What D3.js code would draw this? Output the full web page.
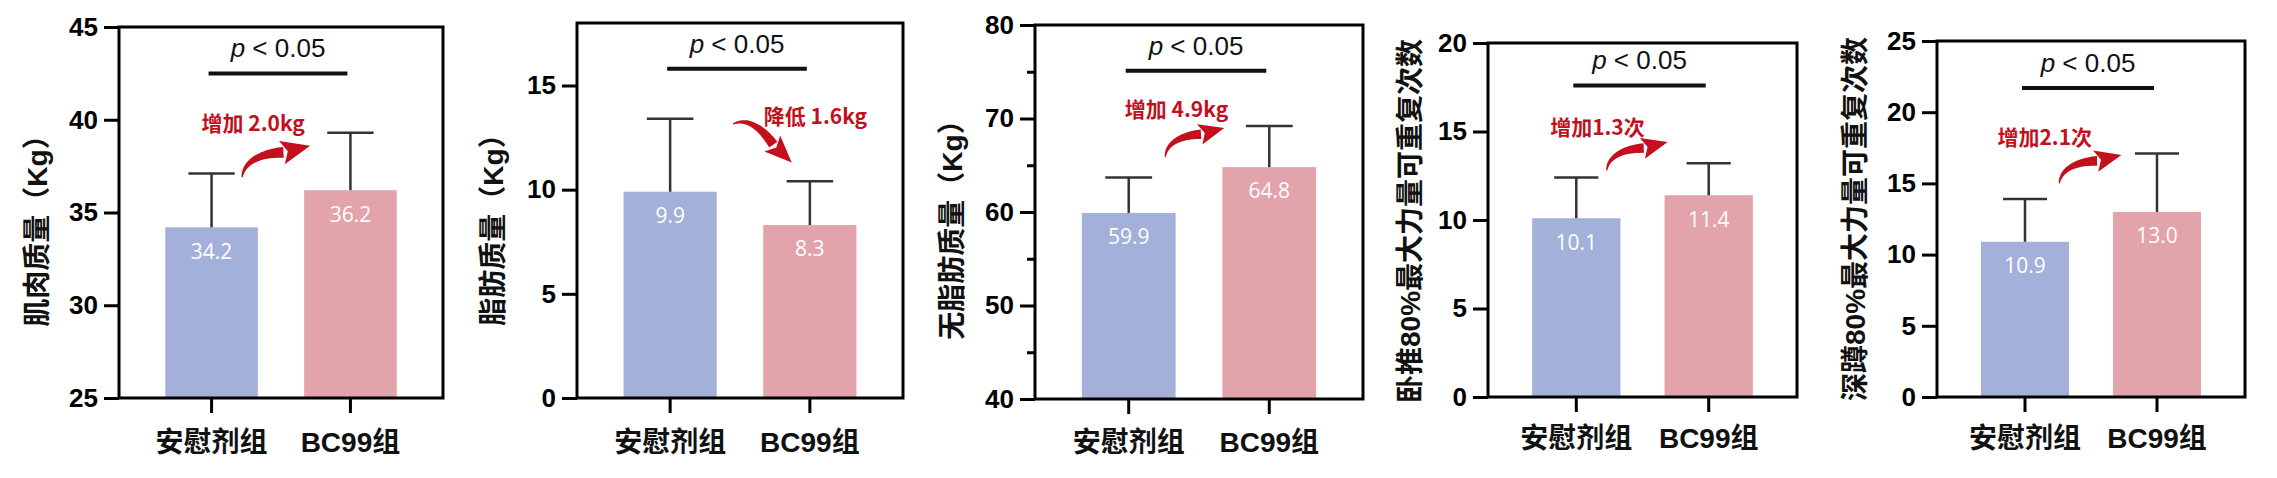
<!DOCTYPE html>
<html>
<head>
<meta charset="utf-8">
<script src="https://cdn.jsdelivr.net/npm/d3@7"></script>
<style>
  html, body { margin: 0; padding: 0; background: #fff; }
  svg { display: block; }
</style>
</head>
<body>
<div id="chart"></div>
<script>
/* five small bar panels, placebo vs BC99, mean + SD */

var categories  = ['安慰剂组', 'BC99组'];
var yTitles     = ['肌肉质量（Kg）', '脂肪质量（Kg）', '无脂肪质量（Kg）',
                   '卧推80%最大力量可重复次数', '深蹲80%最大力量可重复次数'];
var meanValues  = [[34.2, 36.2], [9.9, 8.3], [59.9, 64.8], [10.1, 11.4], [10.9, 13.0]];
var sdValues    = [[2.9, 3.1], [3.5, 2.1], [3.8, 4.4], [2.3, 1.8], [3.0, 4.1]];
var yDomains    = [[25, 45], [0, 18], [40, 80], [0, 20], [0, 25]];
var yTicks      = [[25, 30, 35, 40, 45], [0, 5, 10, 15], [40, 50, 60, 70, 80],
                   [0, 5, 10, 15, 20], [0, 5, 10, 15, 20, 25]];
var yMinorTicks = [[], [], [45, 55, 65, 75], [], []];
var pLabel      = 'p < 0.05';
var pBarValues  = [42.5, 15.8, 75.1, 17.6, 21.7];          /* height of the p bar, data units */
var changeLabels = ['增加 2.0kg', '降低 1.6kg', '增加 4.9kg', '增加1.3次', '增加2.1次'];
/* annotation anchors: [fraction between the two bar centres, value] */
var changePos   = [[0.30, 39.8], [1.04, 13.5], [0.34, 70.9], [0.16, 15.2], [0.15, 18.2]];
var arrowFrom   = [[0.22, 36.9], [0.45, 13.15], [0.26, 65.9], [0.23, 12.8], [0.26, 15.0]];
var arrowTo     = [[0.71, 38.6], [0.87, 11.3], [0.68, 69.0], [0.69, 14.4], [0.73, 17.0]];

var W = 2277, H = 478;
var barColors = ['#a3b0d9', '#e3a3aa'];
var RED = '#c3101c';
var LATIN = "'Liberation Sans', Arial, 'Noto Sans CJK SC', sans-serif";
var CJK   = "'Noto Sans CJK SC', sans-serif";

/* plot frames in pixels */
var frames = [
  { l: 119,  r: 443,  t: 27, b: 398, tx: 37,   ty: 224, lx: 442 },
  { l: 577,  r: 903,  t: 23, b: 398, tx: 493,  ty: 223, lx: 442 },
  { l: 1035, r: 1363, t: 25, b: 399, tx: 952,  ty: 223, lx: 442 },
  { l: 1488, r: 1797, t: 43, b: 397, tx: 1410, ty: 221, lx: 438 },
  { l: 1937, r: 2245, t: 41, b: 397, tx: 1855, ty: 219, lx: 438 }
];

var svg = d3.select('#chart').append('svg')
  .attr('width', W).attr('height', H)
  .attr('viewBox', '0 0 ' + W + ' ' + H);

/* thick tapered curved arrow, bowing to the left of its direction */
function curvedArrow(g, x0, y0, x1, y1) {
  var dx = x1 - x0, dy = y1 - y0, L = Math.sqrt(dx * dx + dy * dy);
  var ux = dx / L, uy = dy / L, nx = uy, ny = -ux;
  function P(u, v) { return [x0 + (u * ux + v * nx) * L, y0 + (u * uy + v * ny) * L]; }
  var c = [[0, 0], [0.12, 0.2], [0.4, 0.17], [0.64, 0.07]];
  function bez(t, k) {
    var m = 1 - t;
    return m * m * m * c[0][k] + 3 * m * m * t * c[1][k] + 3 * m * t * t * c[2][k] + t * t * t * c[3][k];
  }
  function dbez(t, k) {
    var m = 1 - t;
    return 3 * m * m * (c[1][k] - c[0][k]) + 6 * m * t * (c[2][k] - c[1][k]) + 3 * t * t * (c[3][k] - c[2][k]);
  }
  var left = [], right = [], n = 24;
  for (var i = 0; i <= n; i++) {
    var t = i / n;
    var u = bez(t, 0), v = bez(t, 1);
    var du = dbez(t, 0), dv = dbez(t, 1), dl = Math.sqrt(du * du + dv * dv);
    var pu = -dv / dl, pv = du / dl;
    var w = 0.008 + 0.064 * Math.pow(t, 0.85);
    left.push(P(u + pu * w, v + pv * w));
    right.push(P(u - pu * w, v - pv * w));
  }
  var body = left.concat(right.reverse());
  g.append('path')
    .attr('d', 'M' + body.map(function (p) { return p[0].toFixed(1) + ',' + p[1].toFixed(1); }).join('L') + 'Z')
    .attr('fill', RED);

  /* head */
  var bu = 0.62, bv = 0.075, au = 1 - bu, av = 0 - bv, al = Math.sqrt(au * au + av * av);
  var hu = -av / al, hv = au / al, hw = 0.16;
  var head = [P(bu + hu * hw, bv + hv * hw), P(1, 0), P(bu - hu * hw, bv - hv * hw),
              P(bu + au * 0.08 / al, bv + av * 0.08 / al)];
  g.append('path')
    .attr('d', 'M' + head.map(function (p) { return p[0].toFixed(1) + ',' + p[1].toFixed(1); }).join('L') + 'Z')
    .attr('fill', RED);
}

frames.forEach(function (f, i) {
  var g = svg.append('g');

  var x = d3.scaleBand().domain(categories).range([f.l, f.r])
    .paddingInner(1 / 3).paddingOuter(1 / 3);
  var y = d3.scaleLinear().domain(yDomains[i]).range([f.b, f.t]);
  var bw = x.bandwidth();
  var cx = function (c) { return x(c) + bw / 2; };
  var c1 = cx(categories[0]), c2 = cx(categories[1]);
  var ax = function (frac) { return c1 + frac * (c2 - c1); };

  var rows = categories.map(function (c, j) {
    return { cat: c, mean: meanValues[i][j], sd: sdValues[i][j], color: barColors[j] };
  });

  /* bars */
  g.selectAll('rect.bar').data(rows).enter().append('rect')
    .attr('class', 'bar')
    .attr('x', function (d) { return x(d.cat); })
    .attr('y', function (d) { return y(d.mean); })
    .attr('width', bw)
    .attr('height', function (d) { return y(yDomains[i][0]) - y(d.mean); })
    .attr('fill', function (d) { return d.color; });

  /* error bars (upper only) */
  g.selectAll('line.err').data(rows).enter().append('line')
    .attr('x1', function (d) { return cx(d.cat); })
    .attr('x2', function (d) { return cx(d.cat); })
    .attr('y1', function (d) { return y(d.mean); })
    .attr('y2', function (d) { return y(d.mean + d.sd); })
    .attr('stroke', '#333').attr('stroke-width', 2.5);
  g.selectAll('line.cap').data(rows).enter().append('line')
    .attr('x1', function (d) { return cx(d.cat) - bw / 4; })
    .attr('x2', function (d) { return cx(d.cat) + bw / 4; })
    .attr('y1', function (d) { return y(d.mean + d.sd); })
    .attr('y2', function (d) { return y(d.mean + d.sd); })
    .attr('stroke', '#333').attr('stroke-width', 2.5);

  /* value labels */
  g.selectAll('text.val').data(rows).enter().append('text')
    .attr('x', function (d) { return cx(d.cat); })
    .attr('y', function (d) { return y(d.mean) + 24; })
    .attr('dy', '0.35em')
    .attr('text-anchor', 'middle')
    .attr('font-family', "'Open Sans', sans-serif")
    .attr('font-size', 21)
    .attr('fill', '#fff')
    .text(function (d) { return d.mean.toFixed(1); });

  /* frame */
  g.append('rect')
    .attr('x', f.l).attr('y', f.t)
    .attr('width', f.r - f.l).attr('height', f.b - f.t)
    .attr('fill', 'none').attr('stroke', '#000').attr('stroke-width', 3);

  /* y axis */
  var yAxis = g.append('g').attr('transform', 'translate(' + f.l + ',0)')
    .call(d3.axisLeft(y).tickValues(yTicks[i]).tickSize(15).tickSizeOuter(0)
      .tickPadding(6).tickFormat(d3.format('d')));
  if (yMinorTicks[i].length) {
    g.append('g').attr('transform', 'translate(' + f.l + ',0)')
      .call(d3.axisLeft(y).tickValues(yMinorTicks[i]).tickSize(8).tickSizeOuter(0).tickFormat(''))
      .call(function (a) {
        a.select('.domain').remove();
        a.selectAll('line').attr('stroke', '#000').attr('stroke-width', 3);
      });
  }
  yAxis.select('.domain').remove();
  yAxis.selectAll('line').attr('stroke', '#000').attr('stroke-width', 3);
  yAxis.selectAll('text')
    .attr('font-family', LATIN).attr('font-weight', 'bold')
    .attr('font-size', 26).attr('fill', '#000');

  /* x axis */
  var xAxis = g.append('g').attr('transform', 'translate(0,' + f.b + ')')
    .call(d3.axisBottom(x).tickSize(15).tickSizeOuter(0));
  xAxis.select('.domain').remove();
  xAxis.selectAll('line').attr('stroke', '#000').attr('stroke-width', 3);
  xAxis.selectAll('text')
    .attr('y', f.lx - f.b).attr('dy', '0.35em')
    .attr('font-family', LATIN).attr('font-weight', 'bold')
    .attr('font-size', 28).attr('fill', '#111');

  /* y title */
  g.append('text')
    .attr('transform', 'translate(' + f.tx + ',' + f.ty + ') rotate(-90)')
    .attr('text-anchor', 'middle').attr('dy', '0.35em')
    .attr('font-family', LATIN).attr('font-weight', 'bold')
    .attr('font-size', 28).attr('fill', '#111')
    .text(yTitles[i]);

  /* significance bar */
  var py = y(pBarValues[i]);
  g.append('line')
    .attr('x1', c1 - 3).attr('x2', c2 - 3)
    .attr('y1', py).attr('y2', py)
    .attr('stroke', '#111').attr('stroke-width', 4);
  var pt = g.append('text')
    .attr('x', (c1 + c2) / 2 - 3).attr('y', py - 16)
    .attr('text-anchor', 'middle')
    .attr('font-family', LATIN).attr('font-size', 26).attr('fill', '#111');
  pt.append('tspan').attr('font-style', 'italic').text(pLabel.slice(0, 1));
  pt.append('tspan').text(pLabel.slice(1));

  /* change annotation */
  g.append('text')
    .attr('x', ax(changePos[i][0])).attr('y', y(changePos[i][1]))
    .attr('dy', '0.35em').attr('text-anchor', 'middle')
    .attr('font-family', CJK).attr('font-weight', 'bold')
    .attr('font-size', 21).attr('fill', RED)
    .text(changeLabels[i]);
  curvedArrow(g, ax(arrowFrom[i][0]), y(arrowFrom[i][1]), ax(arrowTo[i][0]), y(arrowTo[i][1]));
});
</script>
</body>
</html>
